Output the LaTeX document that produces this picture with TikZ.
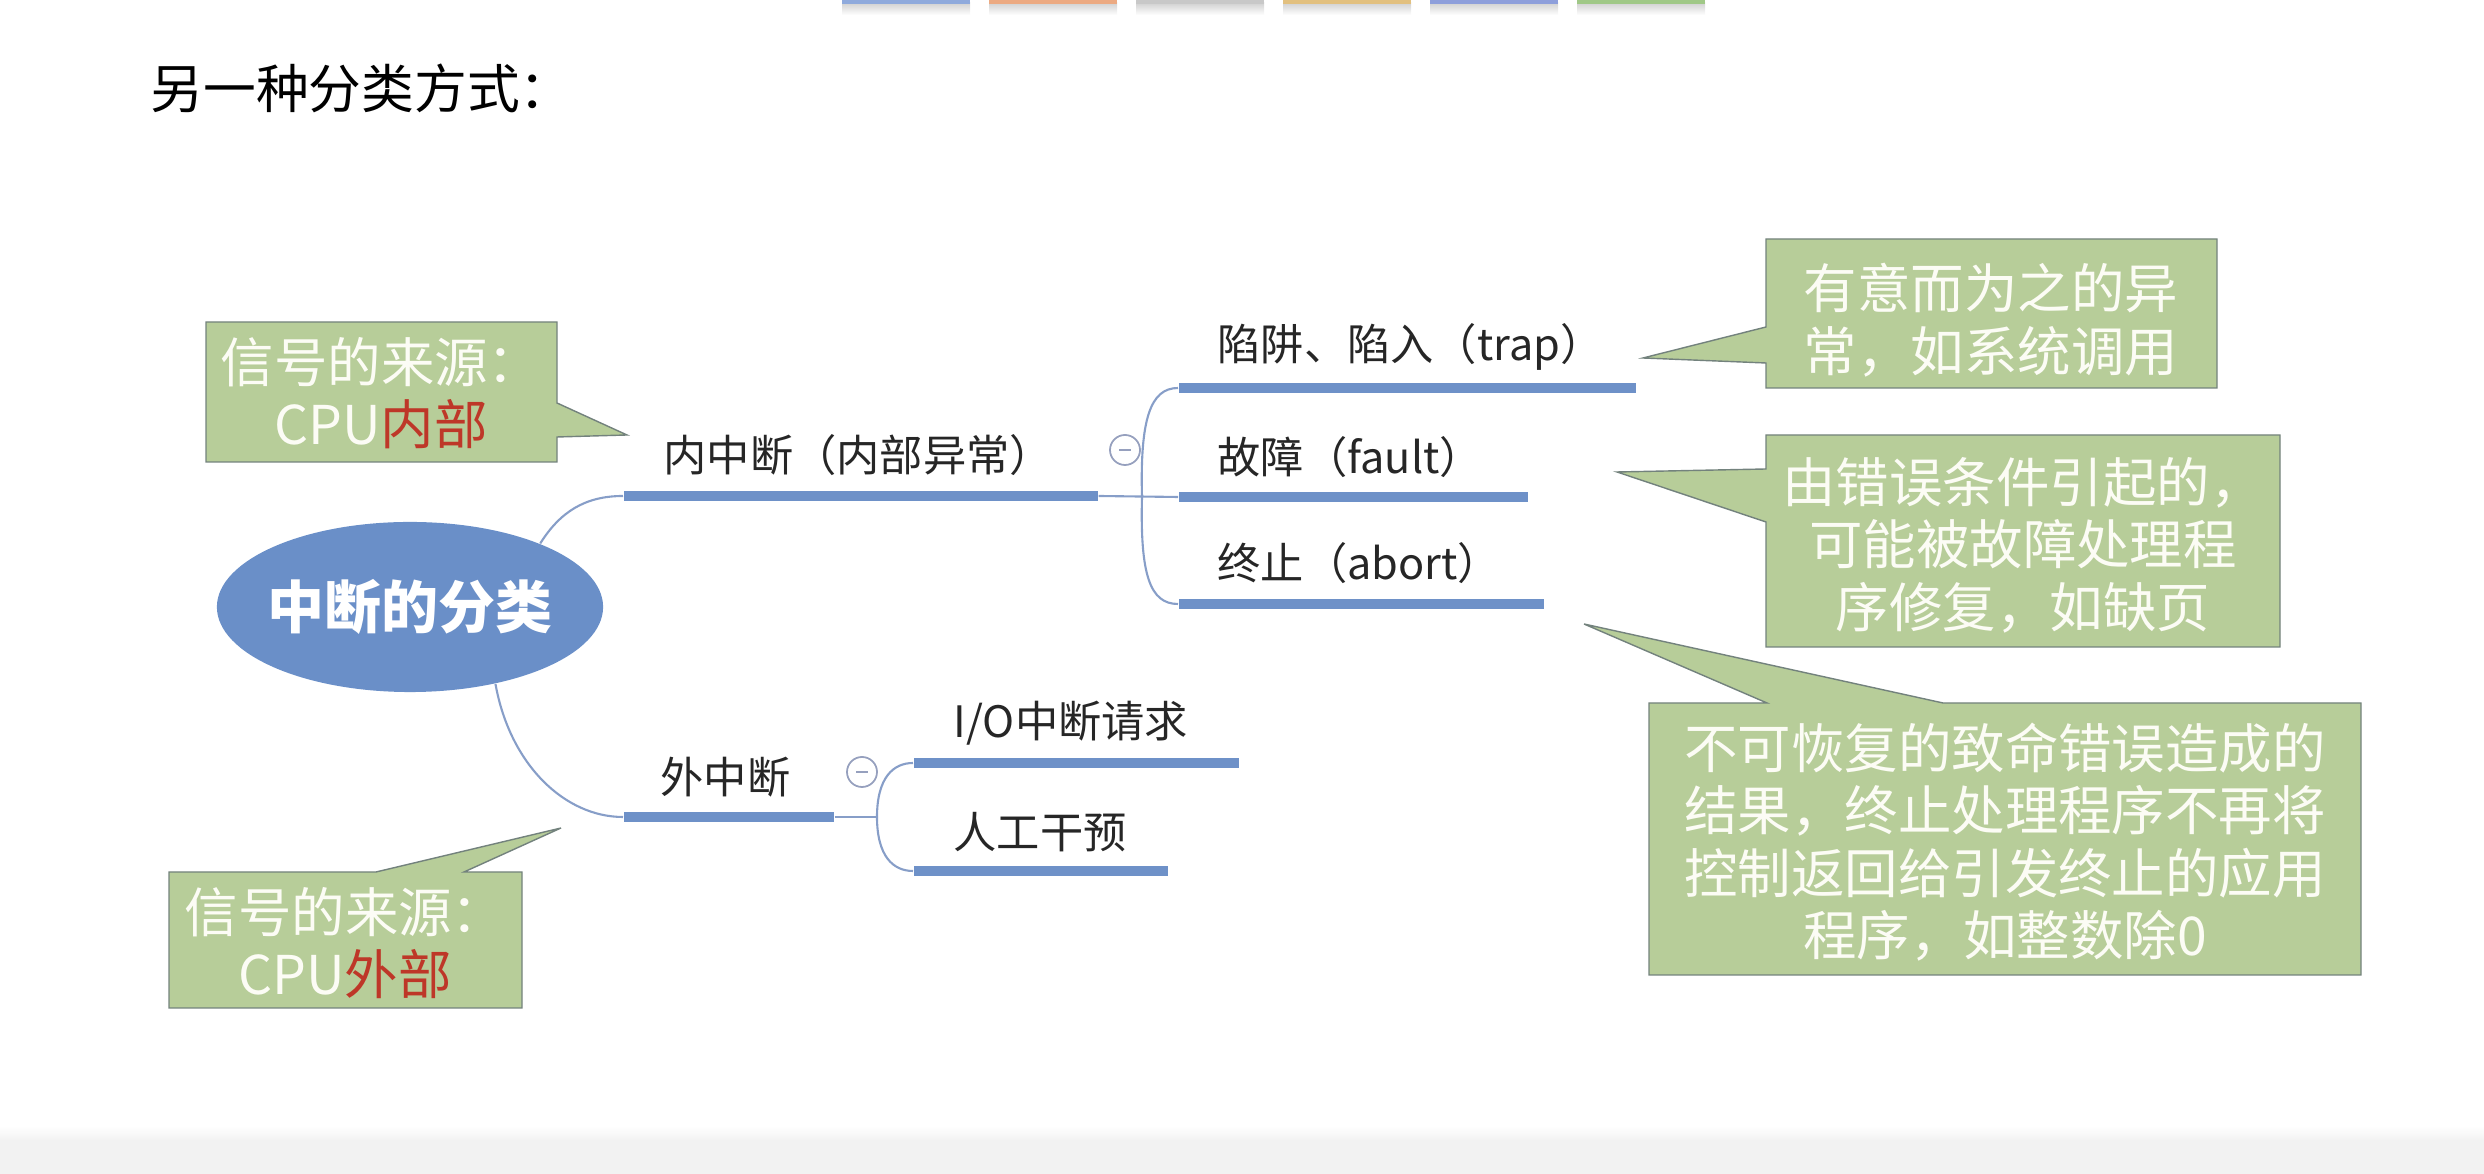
\documentclass[tikz,border=0pt]{standalone}
\usepackage{fontspec}
\setmainfont{Noto Sans CJK SC}
\usepackage{tikz}
\usetikzlibrary{shapes.geometric, calc, positioning}
\definecolor{MapBlue}{RGB}{106, 143, 200}
\definecolor{BarBlue}{RGB}{110, 145, 200}
\definecolor{LinkBlue}{RGB}{135, 158, 200}
\definecolor{FoldGray}{RGB}{150, 160, 190}
\definecolor{NoteGreen}{RGB}{183, 205, 153}
\definecolor{NoteLine}{RGB}{115, 130, 125}
\definecolor{NoteRed}{RGB}{190, 55, 40}
\definecolor{NoteWhite}{RGB}{252, 252, 245}
\definecolor{TabBlue}{RGB}{143, 170, 220}
\definecolor{TabOrange}{RGB}{236, 170, 130}
\definecolor{TabGray}{RGB}{200, 200, 200}
\definecolor{TabGold}{RGB}{226, 192, 127}
\definecolor{TabIndigo}{RGB}{142, 159, 219}
\definecolor{TabGreen}{RGB}{160, 200, 135}

\begin{document}
\begin{tikzpicture}[x=0.01cm, y=-0.01cm,
    mapbar/.style={fill=BarBlue, inner sep=0pt, minimum height=0.105cm, anchor=west},
    maplabel/.style={anchor=west, inner sep=0pt, text=black!85, font=\fontsize{12.3}{14}\selectfont},
    maplink/.style={LinkBlue, line width=0.6pt},
    foldmark/.style={circle, draw=FoldGray, line width=0.5pt, minimum size=0.3cm, inner sep=0pt},
    notebox/.style={fill=NoteGreen, draw=NoteLine, line width=0.4pt},
    notetext/.style={align=center, inner sep=0pt, text=NoteWhite, font=\fontsize{15.2}{17.8}\selectfont}]
    \useasboundingbox (0,0) rectangle (2484,1174);

    % --- slide frame ---
    \foreach \tx/\tc in {842/TabBlue, 989/TabOrange, 1136/TabGray, 1283/TabGold, 1430/TabIndigo, 1577/TabGreen} {
        \fill[top color=black!18, bottom color=white] (\tx,3) rectangle ++(128,12);
        \fill[\tc] (\tx,0) rectangle ++(128,4);
    }
    \fill[top color=white, bottom color=black!5] (0,1126) rectangle (2484,1140);
    \fill[black!5] (0,1140) rectangle (2484,1174);
    \node[anchor=west, inner sep=0pt, font=\fontsize{15}{18}\selectfont] (title) at (150,88) {另一种分类方式：};

    % --- mind map ---
    \node[ellipse, fill=MapBlue, minimum width=3.86cm, minimum height=1.70cm, inner xsep=-0.08cm, inner ysep=0pt,
          text=white, font=\fontsize{16.2}{18}\selectfont\bfseries] (root) at (410,607) {中断的分类};

    \node[mapbar, minimum width=4.74cm] (nei) at (623,496) {};
    \node[mapbar, minimum width=2.10cm] (wai) at (623,817) {};
    \node[mapbar, minimum width=4.57cm] (trap) at (1178,388) {};
    \node[mapbar, minimum width=3.49cm] (fault) at (1178,497) {};
    \node[mapbar, minimum width=3.65cm] (abort) at (1178,604) {};
    \node[mapbar, minimum width=3.25cm] (io) at (913,763) {};
    \node[mapbar, minimum width=2.54cm] (manual) at (913,871) {};

    \node[maplabel] (neiText) at ($(nei.west)+(40,-41)$) {内中断（内部异常）};
    \node[maplabel] (waiText) at ($(wai.west)+(37,-40)$) {外中断};
    \node[maplabel] (trapText) at ($(trap.west)+(39,-41)$) {陷阱、陷入（trap）};
    \node[maplabel] (faultText) at ($(fault.west)+(39,-40)$) {故障（fault）};
    \node[maplabel] (abortText) at ($(abort.west)+(39,-41)$) {终止（abort）};
    \node[maplabel] (ioText) at ($(io.west)+(40,-40)$) {I/O中断请求};
    \node[maplabel] (manualText) at ($(manual.west)+(40,-39)$) {人工干预};

    \node[foldmark] (neiFold) at (1125,450) {};
    \node[foldmark] (waiFold) at (862,772) {};
    \draw[FoldGray, line width=0.6pt] ([xshift=-0.06cm]neiFold.center) -- ([xshift=0.06cm]neiFold.center);
    \draw[FoldGray, line width=0.6pt] ([xshift=-0.06cm]waiFold.center) -- ([xshift=0.06cm]waiFold.center);

    \coordinate (neiJoin) at (1142,497);
    \coordinate (waiJoin) at (877,817);
    \draw[maplink] (root.26) .. controls (560,512) and (585,496) .. (nei.west);
    \draw[maplink] (root.-42) .. controls (510,765) and (565,817) .. (wai.west);
    \draw[maplink] (nei.east) -- (fault.west);
    \draw[maplink] (neiJoin) .. controls (1140,420) and (1150,388) .. (trap.west);
    \draw[maplink] (neiJoin) .. controls (1140,575) and (1150,604) .. (abort.west);
    \draw[maplink] (wai.east) -- (waiJoin);
    \draw[maplink] (waiJoin) .. controls (877,778) and (893,763) .. (io.west);
    \draw[maplink] (waiJoin) .. controls (877,856) and (893,871) .. (manual.west);

    % --- callouts ---
    \filldraw[notebox] (206,322) -- (557,322) -- (557,403) -- (627,435) -- (557,437) -- (557,462) -- (206,462) -- cycle;
    \filldraw[notebox] (169,872) -- (376,872) -- (561,828) -- (464,872) -- (522,872) -- (522,1008) -- (169,1008) -- cycle;
    \filldraw[notebox] (1766,239) -- (2217,239) -- (2217,388) -- (1766,388) -- (1766,363) -- (1643,358) -- (1766,327) -- cycle;
    \filldraw[notebox] (1766,435) -- (2280,435) -- (2280,647) -- (1766,647) -- (1766,522) -- (1617,472) -- (1766,469) -- cycle;
    \filldraw[notebox] (1649,703) -- (1767,703) -- (1584,624) -- (1943,703) -- (2361,703) -- (2361,975) -- (1649,975) -- cycle;

    \node[notetext] (inSrc) at (381,393) {信号的来源：\\CPU\textcolor{NoteRed}{内部}};
    \node[notetext] (outSrc) at (345,943) {信号的来源：\\CPU\textcolor{NoteRed}{外部}};
    \node[notetext] (trapNote) at (1991,320) {有意而为之的异\\常，如系统调用};
    \node[notetext] (faultNote) at (2023,545) {由错误条件引起的，\\可能被故障处理程\\序修复，如缺页};
    \node[notetext] (abortNote) at (2005,842) {不可恢复的致命错误造成的\\结果，终止处理程序不再将\\控制返回给引发终止的应用\\程序，如整数除0};
\end{tikzpicture}
\end{document}
